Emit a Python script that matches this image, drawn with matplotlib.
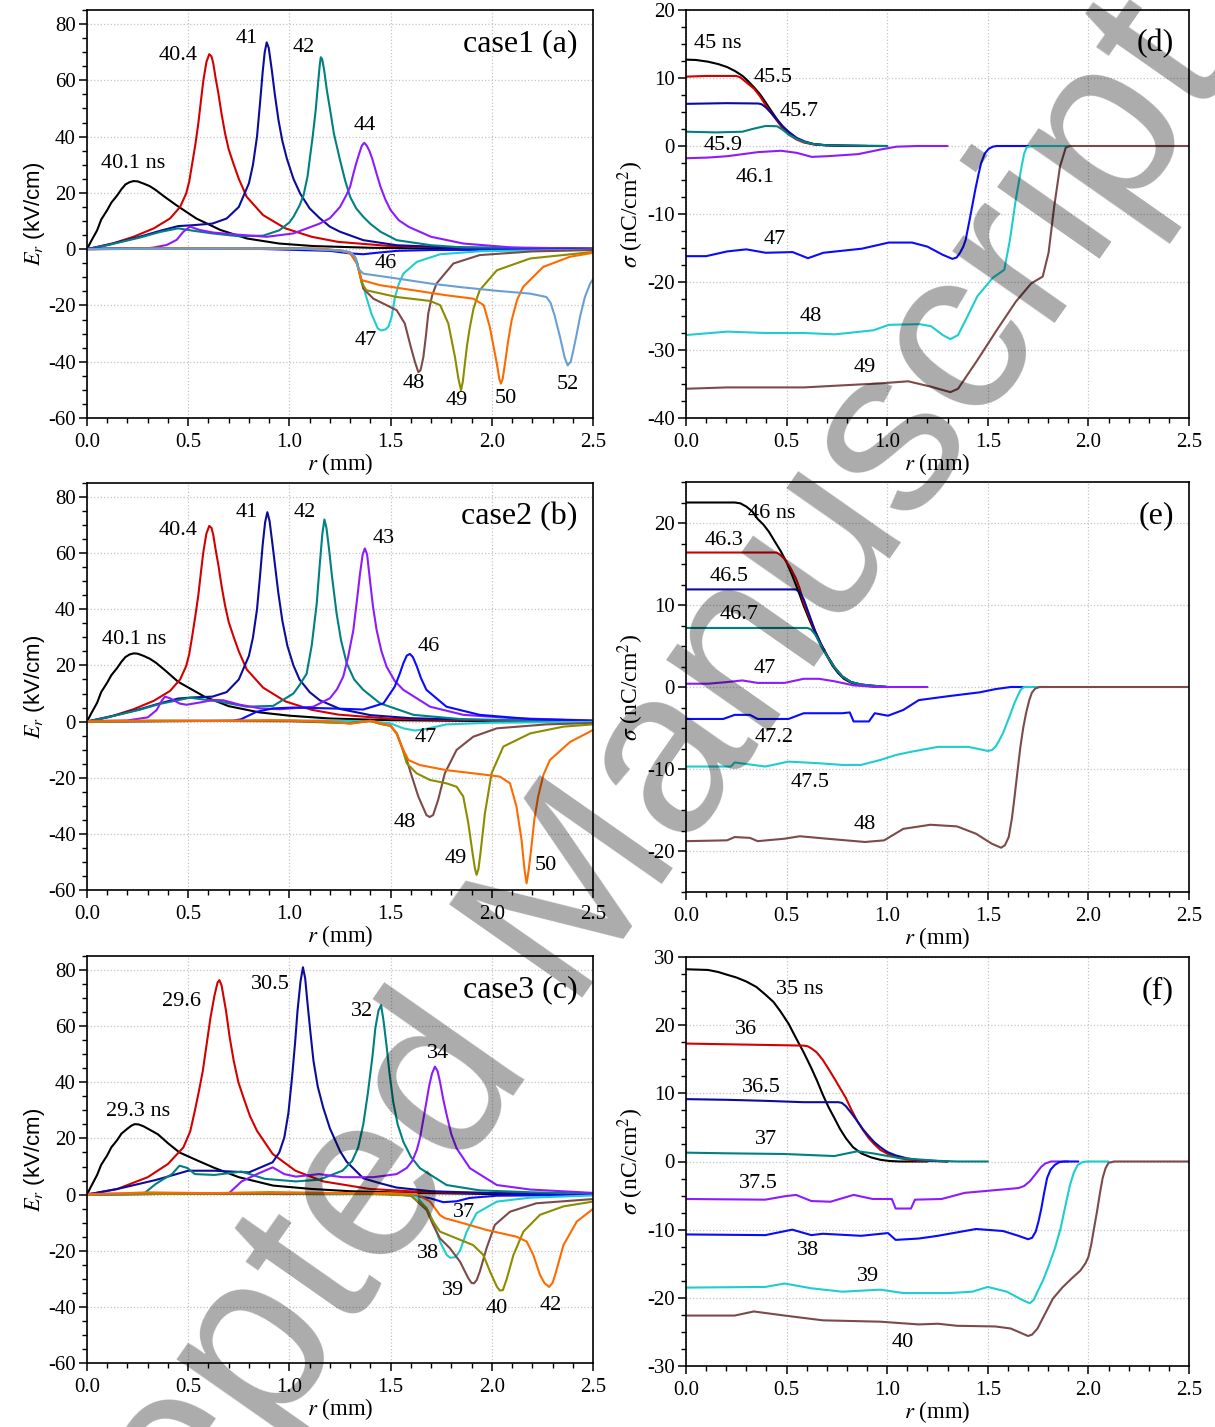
import matplotlib
matplotlib.use("Agg")
import matplotlib.pyplot as plt
from matplotlib.ticker import MultipleLocator

plt.rcParams['font.family'] = 'Liberation Serif'
plt.rcParams['mathtext.fontset'] = 'stix'
plt.rcParams['axes.unicode_minus'] = False

# colours (Origin-like palette)
BLACK = '#000000'
RED = '#d40000'
NAVY = '#0c0c9c'
TEAL = '#008080'
VIOLET = '#8c1cff'
BLUE = '#0a0aff'
CYAN = '#1ecece'
BROWN = '#7d4a4a'
OLIVE = '#8c8c00'
ORANGE = '#ff6a00'
LBLUE = '#6a9fd4'

# ---------------- case1 (a): E_r vs r ----------------
a_401 = [(0, 0), (0.02, 2.8), (0.05, 6.7), (0.07, 10.5), (0.1, 13.9), (0.12, 16.5), (0.15, 19.2), (0.17, 21.3),
         (0.19, 23), (0.21, 23.8), (0.23, 24.2), (0.25, 24.1), (0.28, 23.3), (0.31, 22.4), (0.34, 21), (0.38, 18.8),
         (0.44, 15.7), (0.54, 10.9), (0.66, 6.8), (0.79, 3.8), (0.95, 2.0), (1.12, 1.1), (1.4, 0.5), (1.8, 0.2), (2.5, 0.05)]
a_404 = [(0, 0), (0.13, 2.1), (0.23, 4.4), (0.33, 7.4), (0.41, 10.9), (0.46, 15), (0.49, 19.8), (0.505, 24),
         (0.52, 30.5), (0.535, 37), (0.55, 44.7), (0.565, 54), (0.575, 60), (0.59, 66.5), (0.604, 69.3),
         (0.615, 68.5), (0.624, 66), (0.635, 61), (0.649, 55.4), (0.665, 48), (0.682, 41.2), (0.7, 35.5),
         (0.723, 30.5), (0.75, 25), (0.789, 18.6), (0.87, 12.1), (0.98, 7.4), (1.11, 4.4), (1.24, 2.6),
         (1.5, 1.1), (2.0, 0.3), (2.5, 0.1)]
a_41 = [(0, 0), (0.1, 1.5), (0.26, 4.4), (0.36, 6.5), (0.45, 8.2), (0.52, 8.5), (0.62, 9.1), (0.69, 10.9),
        (0.75, 15), (0.8, 23.4), (0.82, 30), (0.84, 40), (0.855, 52), (0.868, 63), (0.878, 70), (0.888, 73.5),
        (0.898, 71.5), (0.913, 63.7), (0.928, 55), (0.946, 45.9), (0.965, 38.5), (0.987, 32.3), (1.02, 25),
        (1.053, 19.8), (1.1, 14.5), (1.15, 11), (1.2, 8), (1.25, 6.2), (1.365, 3.2), (1.53, 1.4), (1.8, 0.6), (2.5, 0.2)]
a_42 = [(0, 0), (0.1, 1.4), (0.26, 4.1), (0.36, 6.1), (0.45, 7.4), (0.52, 6.6), (0.62, 5.6), (0.75, 4.6),
        (0.87, 4.8), (0.95, 6.7), (1.0, 9.5), (1.02, 11.5), (1.05, 15.5), (1.07, 19.2), (1.09, 26), (1.1, 31.7),
        (1.115, 40), (1.13, 49.5), (1.143, 60), (1.15, 65.5), (1.155, 68.2), (1.162, 67.5), (1.172, 63.5),
        (1.185, 56.5), (1.2, 50), (1.22, 41), (1.25, 31.7), (1.275, 24.5), (1.3, 18.6), (1.33, 14.5),
        (1.365, 11.5), (1.4, 9), (1.45, 6.2), (1.53, 3.2), (1.7, 1.4), (1.86, 0.6), (2.5, 0.2)]
a_44 = [(0, 0.2), (0.3, 0.3), (0.33, 0.6), (0.394, 1.5), (0.443, 3.3), (0.476, 6.2), (0.509, 8), (0.558, 6.8),
        (0.624, 5.9), (0.756, 5.1), (0.888, 4.4), (1.02, 5.6), (1.15, 9.1), (1.2, 11), (1.25, 15), (1.28, 19),
        (1.3, 22.2), (1.315, 26.5), (1.33, 30.5), (1.345, 34), (1.358, 36.8), (1.37, 37.8), (1.382, 36.8),
        (1.395, 35), (1.41, 32), (1.43, 27), (1.45, 22.2), (1.475, 17.5), (1.5, 13.9), (1.54, 10.3), (1.59, 7.9),
        (1.7, 4.4), (1.86, 2), (2.1, 0.6), (2.5, 0.2)]
a_46 = [(0, 0.1), (0.4, 0.3), (0.8, 0.2), (1.2, -0.6), (1.3, -1.5), (1.365, -1.8), (1.43, -1.3), (1.53, -0.6),
        (1.7, -0.3), (2.5, -0.1)]
a_47 = [(0, 0), (0.3, 0.3), (0.6, 0.2), (0.9, 0.4), (1.1, 0.2), (1.25, -0.5), (1.3, -1.3), (1.33, -3.5),
        (1.348, -8.7), (1.38, -17), (1.405, -22.9), (1.437, -28.2), (1.455, -28.9), (1.475, -28.5), (1.49, -27.5),
        (1.505, -24), (1.522, -17), (1.54, -12.5), (1.563, -8.7), (1.63, -4.5), (1.745, -1.8), (1.95, -0.7), (2.5, -0.2)]
a_48 = [(0, 0), (0.35, 0.3), (0.7, 0.1), (1.0, 0.4), (1.25, -0.5), (1.3, -1.3), (1.335, -5), (1.365, -14),
        (1.415, -17.6), (1.48, -19.9), (1.53, -21.7), (1.57, -26.4), (1.6, -34.8), (1.62, -40), (1.637, -43.7),
        (1.648, -43), (1.662, -38.3), (1.675, -30.5), (1.686, -22.9), (1.705, -16.5), (1.727, -12.2),
        (1.81, -5.1), (1.94, -2.1), (2.2, -0.8), (2.5, -0.3)]
a_49 = [(0, 0), (0.4, 0.2), (0.8, 0.3), (1.1, 0.1), (1.25, -0.5), (1.3, -1.3), (1.335, -5), (1.357, -12),
        (1.38, -14.6), (1.53, -17), (1.695, -18.4), (1.745, -19.9), (1.785, -26.4), (1.818, -38.3), (1.835, -46),
        (1.848, -50.2), (1.857, -47), (1.867, -40.7), (1.878, -34), (1.892, -27.6), (1.91, -21), (1.94, -14.6),
        (2.025, -7.5), (2.19, -3.3), (2.5, -1)]
a_50 = [(0, 0), (0.45, 0.3), (0.9, 0.1), (1.15, 0.3), (1.25, -0.5), (1.3, -1.3), (1.333, -5.1), (1.357, -11),
        (1.448, -12.8), (1.613, -14.6), (1.777, -16.4), (1.909, -17.6), (1.96, -19.9), (1.99, -27.6),
        (2.025, -40.7), (2.037, -46), (2.045, -47.8), (2.054, -46), (2.065, -40.7), (2.08, -33), (2.098, -25.3),
        (2.125, -18), (2.155, -13.4), (2.254, -6.3), (2.386, -2.7), (2.5, -1.3)]
a_52 = [(0, 0), (0.5, 0.2), (1.0, 0.3), (1.25, -0.4), (1.3, -1), (1.325, -2.7), (1.34, -6.9), (1.365, -8.7),
        (1.53, -10.4), (1.695, -12.2), (1.86, -13.6), (2.025, -14.8), (2.19, -15.8), (2.27, -17), (2.29, -19),
        (2.31, -23.5), (2.337, -31.2), (2.36, -38.5), (2.375, -41.3), (2.39, -40), (2.403, -35.9), (2.42, -30),
        (2.436, -24), (2.46, -17), (2.486, -12.2), (2.5, -10.7)]
a_text = ['40.1 ns', '40.4', '41', '42', '44', '46', '47', '48', '49', '50', '52']
a_text_r = [0.227, 0.45, 0.79, 1.072, 1.373, 1.477, 1.378, 1.616, 1.828, 2.07, 2.376]
a_text_v = [30.6, 68.7, 74.7, 71.5, 43.8, -5.0, -32.4, -47.7, -53.7, -53.0, -48.0]

# ---------------- case2 (b) ----------------
b_401 = [(0, 0), (0.02, 2.8), (0.05, 6.7), (0.07, 10.5), (0.1, 13.9), (0.12, 16.5), (0.15, 19.2), (0.17, 21.3),
         (0.19, 23), (0.21, 23.9), (0.23, 24.3), (0.25, 24.2), (0.28, 23.4), (0.31, 22.4), (0.34, 21), (0.39, 18),
         (0.45, 14.2), (0.58, 8.9), (0.7, 5.5), (0.85, 3.3), (1.0, 2.1), (1.2, 1.1), (1.5, 0.5), (2.0, 0.15), (2.5, 0.05)]
b_404 = [(0, 0), (0.13, 2.1), (0.23, 4.4), (0.33, 7.4), (0.41, 10.9), (0.46, 15), (0.49, 19.8), (0.505, 24),
         (0.52, 30.5), (0.535, 37.5), (0.55, 45), (0.565, 54.5), (0.575, 60.5), (0.59, 67), (0.604, 69.7),
         (0.615, 69), (0.624, 66.5), (0.635, 61.5), (0.649, 55.8), (0.665, 48.3), (0.682, 41.4), (0.7, 35.5),
         (0.723, 30.5), (0.75, 25), (0.789, 18.6), (0.87, 12.1), (0.98, 7.2), (1.11, 4.2), (1.24, 2.5),
         (1.5, 1.0), (2.0, 0.3), (2.5, 0.1)]
b_41 = [(0, 0), (0.1, 1.5), (0.26, 4.4), (0.36, 6.5), (0.45, 8.2), (0.52, 8.6), (0.62, 8.9), (0.69, 10.5),
        (0.75, 15), (0.8, 23.4), (0.82, 30), (0.84, 40), (0.855, 52), (0.868, 63), (0.88, 71), (0.891, 74.6),
        (0.902, 71.5), (0.915, 64), (0.93, 55), (0.945, 46), (0.965, 36), (0.99, 27), (1.02, 20), (1.05, 15),
        (1.1, 10.5), (1.15, 7.6), (1.25, 4.5), (1.4, 2.3), (1.6, 1.2), (2.0, 0.5), (2.5, 0.2)]
b_42 = [(0, 0), (0.1, 1.5), (0.26, 4.2), (0.36, 6.3), (0.509, 8.5), (0.657, 7.1), (0.789, 5.3), (0.92, 5.6),
        (1.02, 10), (1.05, 13), (1.085, 17), (1.11, 27), (1.135, 42), (1.15, 56), (1.163, 67), (1.173, 72),
        (1.183, 69), (1.195, 62), (1.21, 52), (1.233, 38.6), (1.255, 29), (1.283, 20.8), (1.32, 15),
        (1.365, 11.3), (1.448, 6.5), (1.613, 2.4), (1.86, 0.8), (2.5, 0.2)]
b_43 = [(0, 0.2), (0.2, 0.4), (0.3, 1.5), (0.344, 4.1), (0.37, 7.5), (0.385, 8.9), (0.41, 8.3), (0.459, 6.4),
        (0.492, 6.0), (0.558, 6.8), (0.624, 7.7), (0.673, 7.6), (0.756, 6.0), (0.855, 4.7), (0.953, 4.4),
        (1.118, 5.3), (1.2, 8.3), (1.235, 11.5), (1.266, 16), (1.29, 23), (1.316, 32.6), (1.335, 44),
        (1.349, 52.8), (1.362, 59.5), (1.373, 61.7), (1.384, 59.5), (1.398, 50.4), (1.413, 41), (1.431, 32.6),
        (1.455, 25), (1.48, 19.6), (1.52, 14.5), (1.563, 11.3), (1.695, 5.3), (1.86, 2.4), (2.11, 1.2), (2.5, 0.4)]
b_46 = [(0, 0), (0.5, 0.2), (0.72, 0.3), (0.76, 0.8), (0.838, 3.5), (0.92, 4.7), (1.02, 5), (1.2, 4.7),
        (1.365, 4.3), (1.465, 6.5), (1.52, 12.4), (1.545, 17), (1.563, 20.8), (1.58, 23.5), (1.595, 24.1),
        (1.61, 23), (1.63, 19.6), (1.65, 15.5), (1.677, 11.3), (1.776, 5.3), (1.94, 2.4), (2.19, 0.9), (2.5, 0.3)]
b_47 = [(0, 0), (0.4, 0.3), (0.8, 0.2), (1.2, 0.4), (1.4, 0.1), (1.497, -0.6), (1.563, -2.4), (1.62, -3.2),
        (1.677, -2.6), (1.776, -1), (2.0, -0.4), (2.5, -0.1)]
b_48 = [(0, 0), (0.5, 0.3), (1.0, 0.1), (1.3, -0.5), (1.4, 0.3), (1.45, -0.8), (1.5, -1.5), (1.53, -4.2),
        (1.555, -8.9), (1.58, -13.7), (1.6, -18.4), (1.637, -26.7), (1.677, -33.3), (1.693, -34), (1.71, -33.3),
        (1.735, -27.9), (1.768, -18.4), (1.826, -10.1), (1.908, -5.4), (2.025, -2.4), (2.27, -1), (2.5, -0.5)]
b_49 = [(0, 0), (0.5, 0.2), (1.0, 0.4), (1.3, -0.6), (1.4, 0.2), (1.45, -0.8), (1.5, -1.5), (1.53, -4.2),
        (1.555, -8.9), (1.58, -14.9), (1.628, -18.4), (1.695, -20.8), (1.776, -22), (1.826, -23.2), (1.859, -26.7),
        (1.884, -36.2), (1.905, -46.9), (1.917, -52.5), (1.925, -54.6), (1.934, -52.5), (1.944, -46.9),
        (1.966, -32.7), (1.999, -18.4), (2.057, -8.9), (2.19, -4.2), (2.354, -1.8), (2.5, -1)]
b_50 = [(0, 0), (0.3, 0.4), (0.6, 0.2), (0.9, 0.5), (1.2, 0.1), (1.3, -0.8), (1.4, 0.3), (1.45, -0.6),
        (1.5, -1.5), (1.53, -4.2), (1.555, -8.9), (1.588, -13.7), (1.645, -15.5), (1.776, -17.3), (1.94, -18.7),
        (2.04, -19.6), (2.09, -22), (2.122, -30.3), (2.147, -42.2), (2.162, -53), (2.172, -57.6), (2.182, -53),
        (2.196, -44.5), (2.21, -35), (2.229, -26.7), (2.255, -19), (2.287, -13.7), (2.386, -7.3), (2.5, -3)]
b_text = ['40.1 ns', '40.4', '41', '42', '43', '46', '47', '48', '49', '50']
b_text_r = [0.232, 0.45, 0.79, 1.077, 1.467, 1.69, 1.675, 1.571, 1.823, 2.268]
b_text_v = [29.1, 67.9, 74.6, 74.6, 65.4, 26.9, -5.8, -35.8, -48.9, -51.4]

# ---------------- case3 (c) ----------------
c_293 = [(0, 0), (0.02, 2.9), (0.05, 7), (0.07, 10.6), (0.1, 14), (0.12, 16.8), (0.15, 19.5), (0.17, 21.7),
         (0.2, 23.5), (0.22, 24.6), (0.236, 25.1), (0.255, 25), (0.28, 24.3), (0.35, 21.5), (0.4, 18.3),
         (0.457, 15), (0.55, 12), (0.63, 9.5), (0.75, 6.2), (0.92, 3.2), (1.11, 2), (1.3, 1.2), (1.6, 0.6),
         (2.0, 0.2), (2.5, 0.05)]
c_296 = [(0, 0), (0.15, 2), (0.3, 6.2), (0.4, 10.9), (0.476, 16.8), (0.51, 22.5), (0.533, 29.9), (0.552, 36.5),
         (0.572, 44), (0.59, 53), (0.61, 63), (0.63, 71), (0.645, 75.5), (0.654, 76.4), (0.665, 74.5),
         (0.687, 65.4), (0.705, 56), (0.725, 47.6), (0.748, 40), (0.773, 34.6), (0.805, 28), (0.84, 22.7),
         (0.917, 14.5), (1.03, 8.5), (1.167, 4.7), (1.397, 2), (1.685, 0.8), (2.5, 0.2)]
c_305 = [(0, 0), (0.15, 2), (0.34, 5.2), (0.5, 8.5), (0.63, 8.5), (0.8, 7.9), (0.917, 11.5), (0.95, 15),
         (0.975, 20.4), (0.995, 29), (1.013, 41.7), (1.028, 54), (1.04, 65.4), (1.055, 76), (1.067, 81),
         (1.078, 77), (1.09, 67.8), (1.105, 57), (1.119, 47.6), (1.14, 38.5), (1.167, 31), (1.2, 23.6),
         (1.25, 15.5), (1.283, 11.7), (1.365, 5.8), (1.45, 4), (1.53, 2.5), (1.7, 1.2), (2.0, 0.5), (2.5, 0.2)]
c_32 = [(0, 0), (0.28, 0.3), (0.34, 3.8), (0.38, 5.6), (0.42, 7.3), (0.457, 10.3), (0.495, 9.5), (0.533, 7.3),
        (0.63, 7), (0.764, 8.2), (0.879, 5.6), (1.032, 4.7), (1.147, 5.3), (1.262, 8.5), (1.31, 12),
        (1.34, 16.8), (1.365, 25), (1.387, 35.8), (1.41, 49), (1.425, 59.5), (1.44, 65.5), (1.453, 67.5),
        (1.465, 62), (1.48, 53), (1.495, 43), (1.513, 33), (1.535, 25), (1.563, 18.8), (1.6, 13.5),
        (1.645, 9.4), (1.777, 3.4), (1.94, 1.5), (2.2, 0.8), (2.5, 0.3)]
c_34 = [(0, 0.3), (0.7, 0.4), (0.764, 4.7), (0.84, 7.3), (0.917, 9.7), (0.975, 7.3), (1.032, 6.4), (1.147, 7.3),
        (1.262, 6.2), (1.416, 6.2), (1.53, 7.3), (1.58, 9.5), (1.608, 12.1), (1.63, 16), (1.646, 20.4),
        (1.675, 32.2), (1.69, 38.5), (1.704, 43), (1.719, 45.6), (1.732, 44), (1.744, 40.2), (1.76, 34),
        (1.777, 28.4), (1.8, 21.5), (1.826, 16.5), (1.892, 9.4), (2.025, 3.4), (2.19, 1.8), (2.5, 0.6)]
c_37 = [(0, 0), (0.5, 0.3), (1.0, 0.2), (1.4, 0.5), (1.6, -0.2), (1.695, -1.3), (1.76, -2.7), (1.826, -2.4),
        (1.89, -1.2), (2.025, -0.4), (2.5, -0.1)]
c_38 = [(0, 0), (0.4, 0.3), (0.8, 0.4), (1.2, 0.1), (1.5, 0.3), (1.628, -0.7), (1.678, -4.9), (1.71, -9.6),
        (1.744, -16.8), (1.777, -21.5), (1.795, -22.5), (1.82, -22.3), (1.843, -20), (1.876, -13.2),
        (1.925, -6.6), (2.025, -2.5), (2.19, -1.1), (2.5, -0.3)]
c_39 = [(0, 0), (0.5, 0.4), (1.0, 0.2), (1.4, 0.5), (1.6, -0.3), (1.678, -5.5), (1.71, -10.8), (1.744, -15.6),
        (1.793, -19.1), (1.843, -23.9), (1.884, -29.8), (1.9, -31.5), (1.912, -31.6), (1.925, -30.5),
        (1.941, -27.4), (1.974, -19.1), (2.015, -10.8), (2.09, -6.1), (2.22, -3.1), (2.5, -1.6)]
c_40 = [(0, 0), (0.5, 0.3), (1.0, 0.5), (1.4, 0.2), (1.6, -0.3), (1.678, -4.9), (1.71, -9.6), (1.744, -13.2),
        (1.826, -15.6), (1.908, -18), (1.958, -21.5), (1.991, -27.4), (2.025, -32.8), (2.04, -34.2),
        (2.055, -34), (2.074, -30), (2.107, -21.5), (2.156, -13.2), (2.238, -7.2), (2.354, -4.2), (2.5, -2.5)]
c_42 = [(0, 0), (0.3, 0.8), (0.6, 0.5), (0.9, 0.9), (1.2, 0.6), (1.5, 0.5), (1.628, 0.2), (1.695, -2.5),
        (1.744, -7.3), (1.768, -8.4), (1.859, -10.2), (1.974, -12.6), (2.122, -15), (2.172, -16.7),
        (2.205, -21.5), (2.238, -28.6), (2.26, -31.5), (2.283, -32.9), (2.3, -31.5), (2.313, -28.6),
        (2.354, -18), (2.42, -9.6), (2.5, -5.1)]
c_text = ['29.3 ns', '29.6', '30.5', '32', '34', '37', '38', '39', '40', '42']
c_text_r = [0.252, 0.469, 0.904, 1.359, 1.734, 1.863, 1.685, 1.808, 2.026, 2.293]
c_text_v = [29.7, 68.9, 75.0, 65.4, 50.1, -6.3, -20.9, -34.1, -40.5, -39.4]

# ---------------- (d) sigma, case1 ----------------
d_45 = [(0, 12.7), (0.05, 12.65), (0.109, 12.4), (0.16, 12.05), (0.205, 11.6), (0.245, 11), (0.281, 10.3),
        (0.31, 9.5), (0.339, 8.6), (0.368, 7.6), (0.396, 6.4), (0.425, 5.1), (0.453, 3.9), (0.48, 2.9),
        (0.51, 2), (0.55, 1.1), (0.587, 0.6), (0.63, 0.3), (0.683, 0.15), (0.75, 0.05), (0.8, 0), (1.0, 0)]
d_455 = [(0, 10.2), (0.1, 10.3), (0.25, 10.3), (0.27, 10.1), (0.29, 9.6), (0.315, 9), (0.339, 8.4),
         (0.368, 7.3), (0.396, 6), (0.425, 4.8), (0.453, 3.7), (0.48, 2.6), (0.51, 1.7), (0.55, 0.95),
         (0.587, 0.5), (0.64, 0.2), (0.7, 0.1), (0.9, 0)]
d_457 = [(0, 6.2), (0.2, 6.3), (0.358, 6.25), (0.375, 6.15), (0.396, 5.7), (0.425, 4.8), (0.453, 3.8),
         (0.48, 2.9), (0.51, 2.1), (0.55, 1.2), (0.587, 0.7), (0.64, 0.25), (0.7, 0.1), (0.9, 0)]
d_459 = [(0, 2.1), (0.15, 2.0), (0.28, 2.1), (0.33, 2.5), (0.396, 2.95), (0.453, 2.9), (0.48, 2.4),
         (0.51, 1.7), (0.55, 1.05), (0.587, 0.6), (0.64, 0.25), (0.7, 0.1), (1.0, 0)]
d_461 = [(0, -1.8), (0.109, -1.7), (0.205, -1.5), (0.358, -0.9), (0.472, -0.7), (0.549, -1), (0.625, -1.6),
         (0.702, -1.5), (0.855, -1.2), (0.97, -0.5), (1.046, -0.1), (1.15, 0), (1.3, 0)]
d_47 = [(0, -16.2), (0.1, -16.2), (0.205, -15.5), (0.3, -15.2), (0.396, -15.7), (0.53, -15.6), (0.606, -16.5),
        (0.683, -15.7), (0.874, -15.1), (1.008, -14.2), (1.123, -14.2), (1.2, -14.8), (1.276, -16),
        (1.324, -16.6), (1.345, -16.4), (1.362, -15.7), (1.378, -14.8), (1.39, -13.8), (1.41, -10.8),
        (1.438, -6.4), (1.455, -4), (1.467, -2.5), (1.485, -1.1), (1.505, -0.4), (1.525, -0.1), (1.544, 0), (1.7, 0)]
d_48 = [(0, -27.8), (0.205, -27.3), (0.396, -27.5), (0.587, -27.5), (0.74, -27.7), (0.932, -27.1),
        (1.008, -26.3), (1.161, -26.2), (1.218, -26.5), (1.276, -27.8), (1.314, -28.4), (1.352, -27.8),
        (1.39, -25.6), (1.448, -22.1), (1.524, -19.4), (1.582, -18.2), (1.61, -13.8), (1.639, -7.9),
        (1.668, -3), (1.68, -1.2), (1.693, -0.2), (1.72, 0), (1.9, 0)]
d_49 = [(0, -35.7), (0.205, -35.5), (0.587, -35.5), (0.778, -35.2), (0.97, -34.9), (1.104, -34.6),
        (1.218, -35.4), (1.314, -36.2), (1.352, -35.7), (1.448, -31.5), (1.544, -27.1), (1.639, -22.9),
        (1.716, -20.2), (1.773, -19.2), (1.802, -15.7), (1.83, -8.9), (1.859, -3), (1.888, -0.2), (1.91, 0), (2.5, 0)]
d_text = ['45 ns', '45.5', '45.7', '45.9', '46.1', '47', '48', '49']
d_text_r = [0.159, 0.432, 0.562, 0.184, 0.343, 0.442, 0.621, 0.89]
d_text_v = [15.1, 10.1, 5.1, 0.0, -4.6, -13.8, -25.1, -32.6]

# ---------------- (e) sigma, case2 ----------------
e_46 = [(0, 22.5), (0.242, 22.5), (0.27, 22.4), (0.3, 22), (0.33, 21.4), (0.356, 20.5), (0.385, 19.8),
        (0.413, 18.9), (0.44, 17.8), (0.47, 16.6), (0.5, 15.2), (0.528, 13.6), (0.557, 11.8), (0.585, 9.9),
        (0.615, 8.1), (0.642, 6.6), (0.67, 5.1), (0.7, 3.8), (0.728, 2.6), (0.756, 1.7), (0.785, 1.0),
        (0.814, 0.6), (0.85, 0.3), (0.89, 0.15), (0.95, 0.03), (1.0, 0)]
e_463 = [(0, 16.4), (0.2, 16.4), (0.45, 16.4), (0.47, 16.1), (0.49, 15.6), (0.52, 14.5), (0.547, 13.2),
         (0.565, 12), (0.585, 10.3), (0.615, 8.4), (0.642, 6.8), (0.67, 5.3), (0.7, 3.9), (0.738, 2.4),
         (0.776, 1.3), (0.82, 0.6), (0.87, 0.3), (0.93, 0.1), (1.0, 0)]
e_465 = [(0, 11.9), (0.3, 11.9), (0.547, 11.9), (0.565, 11.6), (0.585, 10.7), (0.61, 9.0), (0.642, 6.8),
         (0.67, 5.3), (0.7, 3.9), (0.738, 2.4), (0.776, 1.3), (0.82, 0.6), (0.87, 0.3), (1.0, 0)]
e_467 = [(0, 7.2), (0.3, 7.2), (0.604, 7.2), (0.622, 7.0), (0.642, 6.4), (0.67, 5.1), (0.7, 3.8),
         (0.738, 2.4), (0.776, 1.3), (0.82, 0.6), (0.87, 0.3), (1.0, 0)]
e_47 = [(0, 0.4), (0.109, 0.4), (0.204, 0.6), (0.28, 0.8), (0.356, 0.5), (0.49, 0.5), (0.585, 1.0),
        (0.661, 1.0), (0.737, 0.7), (0.833, 0.2), (0.95, 0), (1.2, 0)]
e_472 = [(0, -3.9), (0.185, -3.9), (0.242, -3.4), (0.318, -3.4), (0.356, -3.9), (0.509, -3.9), (0.585, -3.2),
         (0.776, -3.2), (0.814, -3.1), (0.833, -4.2), (0.909, -4.2), (0.938, -3.2), (1.004, -3.5),
         (1.08, -2.8), (1.157, -1.6), (1.31, -1.1), (1.46, -0.65), (1.54, -0.25), (1.614, 0), (1.7, 0)]
e_475 = [(0, -9.7), (0.223, -9.7), (0.242, -9.2), (0.394, -9.7), (0.509, -9.1), (0.661, -9.3), (0.776, -9.5),
         (0.87, -9.5), (0.966, -8.9), (1.042, -8.3), (1.119, -7.9), (1.252, -7.3), (1.404, -7.3), (1.5, -7.8),
         (1.52, -7.7), (1.538, -7.3), (1.555, -6.6), (1.576, -5.6), (1.595, -4.4), (1.614, -3.2),
         (1.632, -2), (1.652, -0.9), (1.665, -0.3), (1.68, 0), (1.8, 0)]
e_48 = [(0, -18.8), (0.204, -18.7), (0.242, -18.3), (0.318, -18.4), (0.356, -18.8), (0.49, -18.5),
        (0.566, -18.2), (0.7, -18.5), (0.89, -18.9), (0.985, -18.7), (1.08, -17.3), (1.214, -16.8),
        (1.347, -17), (1.442, -17.9), (1.519, -19.1), (1.566, -19.6), (1.585, -19.3), (1.604, -18.3),
        (1.62, -16), (1.633, -13.4), (1.648, -10.2), (1.662, -7.3), (1.676, -5), (1.69, -3.2), (1.705, -1.7),
        (1.719, -0.7), (1.735, -0.2), (1.757, 0), (2.5, 0)]
e_text = ['46 ns', '46.3', '46.5', '46.7', '47', '47.2', '47.5', '48']
e_text_r = [0.427, 0.189, 0.214, 0.263, 0.393, 0.437, 0.616, 0.89]
e_text_v = [21.2, 17.9, 13.5, 8.9, 2.3, -6.1, -11.7, -16.8]

# ---------------- (f) sigma, case3 ----------------
f_35 = [(0, 28.2), (0.109, 28.1), (0.16, 27.8), (0.204, 27.4), (0.25, 27), (0.3, 26.4), (0.35, 25.6),
        (0.394, 24.5), (0.435, 23.4), (0.47, 22), (0.51, 20.2), (0.547, 18.1), (0.585, 16), (0.623, 13.7),
        (0.652, 11.8), (0.68, 9.8), (0.708, 8), (0.737, 6.4), (0.765, 4.8), (0.795, 3.4), (0.83, 2.1),
        (0.871, 1.2), (0.92, 0.6), (0.966, 0.25), (1.01, 0.08), (1.061, 0), (1.2, 0)]
f_36 = [(0, 17.3), (0.394, 17.1), (0.585, 17), (0.605, 16.9), (0.623, 16.6), (0.65, 16), (0.68, 14.9),
        (0.708, 13.6), (0.737, 12.2), (0.765, 10.8), (0.795, 9.3), (0.822, 7.6), (0.852, 5.9), (0.88, 4.6),
        (0.909, 3.4), (0.937, 2.5), (0.966, 1.7), (1.01, 1.0), (1.061, 0.5), (1.11, 0.25), (1.157, 0.1), (1.3, 0)]
f_365 = [(0, 9.15), (0.204, 9.05), (0.394, 8.9), (0.585, 8.7), (0.756, 8.7), (0.775, 8.6), (0.795, 8.1),
         (0.822, 7.1), (0.852, 5.9), (0.88, 4.7), (0.909, 3.7), (0.937, 2.8), (0.966, 2.1), (1.0, 1.4),
         (1.042, 0.9), (1.1, 0.45), (1.157, 0.2), (1.3, 0)]
f_37 = [(0, 1.3), (0.204, 1.2), (0.49, 1.1), (0.737, 0.8), (0.852, 1.5), (0.928, 1.2), (1.061, 0.5),
        (1.252, 0.1), (1.35, 0), (1.5, 0)]
f_375 = [(0, -5.5), (0.394, -5.6), (0.49, -5.1), (0.547, -4.9), (0.623, -5.8), (0.718, -5.9), (0.833, -4.9),
         (0.928, -5.5), (1.023, -5.5), (1.042, -6.9), (1.118, -6.9), (1.138, -5.6), (1.271, -5.5),
         (1.385, -4.6), (1.538, -4.2), (1.652, -3.9), (1.68, -3.6), (1.709, -2.9), (1.728, -2.2),
         (1.747, -1.5), (1.765, -0.8), (1.785, -0.3), (1.814, 0), (1.9, 0)]
f_38 = [(0, -10.7), (0.394, -10.8), (0.528, -10), (0.623, -10.8), (0.68, -10.6), (0.871, -10.9),
        (1.004, -10.5), (1.042, -11.5), (1.157, -11.3), (1.252, -10.9), (1.442, -9.9), (1.576, -10.2),
        (1.652, -10.9), (1.7, -11.4), (1.72, -11.2), (1.738, -10.3), (1.752, -8.8), (1.766, -6.9),
        (1.78, -4.6), (1.795, -2.4), (1.812, -1.2), (1.833, -0.5), (1.855, -0.1), (1.881, 0), (1.95, 0)]
f_39 = [(0, -18.5), (0.394, -18.4), (0.49, -17.9), (0.623, -18.6), (0.776, -19.1), (0.966, -18.8),
        (1.08, -19.3), (1.309, -19.3), (1.423, -19.1), (1.5, -18.4), (1.595, -19.1), (1.671, -20.3),
        (1.709, -20.8), (1.728, -20.3), (1.747, -19.1), (1.775, -17.4), (1.804, -15.2), (1.835, -12.6),
        (1.862, -9.8), (1.885, -6.6), (1.909, -3.4), (1.928, -1.6), (1.947, -0.5), (1.97, -0.1), (1.995, 0), (2.1, 0)]
f_40 = [(0, -22.6), (0.242, -22.6), (0.337, -22), (0.49, -22.6), (0.68, -23.3), (0.966, -23.5),
        (1.157, -23.9), (1.252, -23.8), (1.347, -24.1), (1.538, -24.2), (1.614, -24.5), (1.7, -25.6),
        (1.72, -25.4), (1.747, -24.5), (1.78, -22.6), (1.824, -20.1), (1.87, -18.5), (1.919, -17.1),
        (1.96, -16), (1.986, -14.9), (2.0, -14), (2.014, -12.2), (2.028, -9.8), (2.043, -7.3), (2.057, -4.7),
        (2.071, -2.4), (2.085, -1), (2.1, -0.2), (2.128, 0), (2.5, 0)]
f_text = ['35 ns', '36', '36.5', '37', '37.5', '38', '39', '40']
f_text_r = [0.567, 0.298, 0.373, 0.398, 0.358, 0.606, 0.905, 1.079]
f_text_v = [25.3, 19.3, 10.9, 3.3, -3.3, -13.0, -16.8, -26.5]


def draw_panel(ax, curves, colors, texts, tr, tv, ylim, ymaj, ymin, tag, ylabel, ylabel_family, ylabel_size):
    for pts, col in zip(curves, colors):
        ax.plot([p[0] for p in pts], [p[1] for p in pts], color=col, lw=1.5,
                solid_joinstyle='round', solid_capstyle='round')
    for s, x, y in zip(texts, tr, tv):
        ax.text(x, y, s, fontsize=16, ha='center', va='center')
    ax.set_xlim(0, 2.5)
    ax.set_ylim(*ylim)
    ax.xaxis.set_major_locator(MultipleLocator(0.5))
    ax.xaxis.set_minor_locator(MultipleLocator(0.1))
    ax.yaxis.set_major_locator(MultipleLocator(ymaj))
    ax.yaxis.set_minor_locator(MultipleLocator(ymin))
    ax.xaxis.set_major_formatter(plt.FormatStrFormatter('%.1f'))
    ax.tick_params(which='major', direction='out', length=6, width=1.1, labelsize=15)
    ax.tick_params(axis='x', which='major', pad=5)
    ax.tick_params(axis='y', which='major', pad=2)
    ax.tick_params(which='minor', direction='out', length=3.5, width=1.0)
    ax.grid(True, which='major', ls=':', color='#c4c4c4', lw=0.9)
    for sp in ax.spines.values():
        sp.set_linewidth(1.2)
    ax.set_xlabel(r'$r$ (mm)', fontsize=16.5, labelpad=-1)
    ax.set_ylabel(ylabel, fontsize=ylabel_size, family=ylabel_family, labelpad=1)
    ax.text(0.97, 0.918, tag, transform=ax.transAxes, ha='right', va='center', fontsize=23)


W, H = 1215.0, 1427.0
fig = plt.figure(figsize=(W / 100, H / 100), dpi=100)
ax_a = fig.add_axes([87 / W, 1 - 418 / H, 506 / W, 408 / H])
ax_d = fig.add_axes([686 / W, 1 - 418 / H, 503 / W, 408 / H])
ax_b = fig.add_axes([87 / W, 1 - 890 / H, 506 / W, 407 / H])
ax_e = fig.add_axes([686 / W, 1 - 892 / H, 503 / W, 410 / H])
ax_c = fig.add_axes([87 / W, 1 - 1363 / H, 506 / W, 407 / H])
ax_f = fig.add_axes([686 / W, 1 - 1366 / H, 503 / W, 409 / H])

er_label = r'$E_r$ (kV/cm)'
sig_label = r'$\sigma$ (nC/cm$^2$)'

draw_panel(ax_a, [a_401, a_404, a_41, a_42, a_44, a_46, a_47, a_48, a_49, a_50, a_52],
           [BLACK, RED, NAVY, TEAL, VIOLET, BLUE, CYAN, BROWN, OLIVE, ORANGE, LBLUE],
           a_text, a_text_r, a_text_v, (-60, 85), 20, 5, 'case1 (a)', er_label, 'Liberation Sans', 16)
draw_panel(ax_b, [b_401, b_404, b_41, b_42, b_43, b_46, b_47, b_48, b_49, b_50],
           [BLACK, RED, NAVY, TEAL, VIOLET, BLUE, CYAN, BROWN, OLIVE, ORANGE],
           b_text, b_text_r, b_text_v, (-60, 85), 20, 5, 'case2 (b)', er_label, 'Liberation Sans', 16)
draw_panel(ax_c, [c_293, c_296, c_305, c_32, c_34, c_37, c_38, c_39, c_40, c_42],
           [BLACK, RED, NAVY, TEAL, VIOLET, BLUE, CYAN, BROWN, OLIVE, ORANGE],
           c_text, c_text_r, c_text_v, (-60, 85), 20, 5, 'case3 (c)', er_label, 'Liberation Sans', 16)
draw_panel(ax_d, [d_45, d_455, d_457, d_459, d_461, d_47, d_48, d_49],
           [BLACK, RED, NAVY, TEAL, VIOLET, BLUE, CYAN, BROWN],
           d_text, d_text_r, d_text_v, (-40, 20), 10, 2.5, '(d)', sig_label, 'Liberation Serif', 17)
draw_panel(ax_e, [e_46, e_463, e_465, e_467, e_47, e_472, e_475, e_48],
           [BLACK, RED, NAVY, TEAL, VIOLET, BLUE, CYAN, BROWN],
           e_text, e_text_r, e_text_v, (-25, 25), 10, 2.5, '(e)', sig_label, 'Liberation Serif', 17)
draw_panel(ax_f, [f_35, f_36, f_365, f_37, f_375, f_38, f_39, f_40],
           [BLACK, RED, NAVY, TEAL, VIOLET, BLUE, CYAN, BROWN],
           f_text, f_text_r, f_text_v, (-30, 30), 10, 2.5, '(f)', sig_label, 'Liberation Serif', 17)

# watermark
fig.text(552 / W, 1 - 935 / H, 'Accepted Manuscript', rotation=55, rotation_mode='anchor',
         ha='center', va='center', fontsize=170, family='Liberation Sans', color='black', alpha=0.33, zorder=20)

fig.savefig('out.png', dpi=100)
